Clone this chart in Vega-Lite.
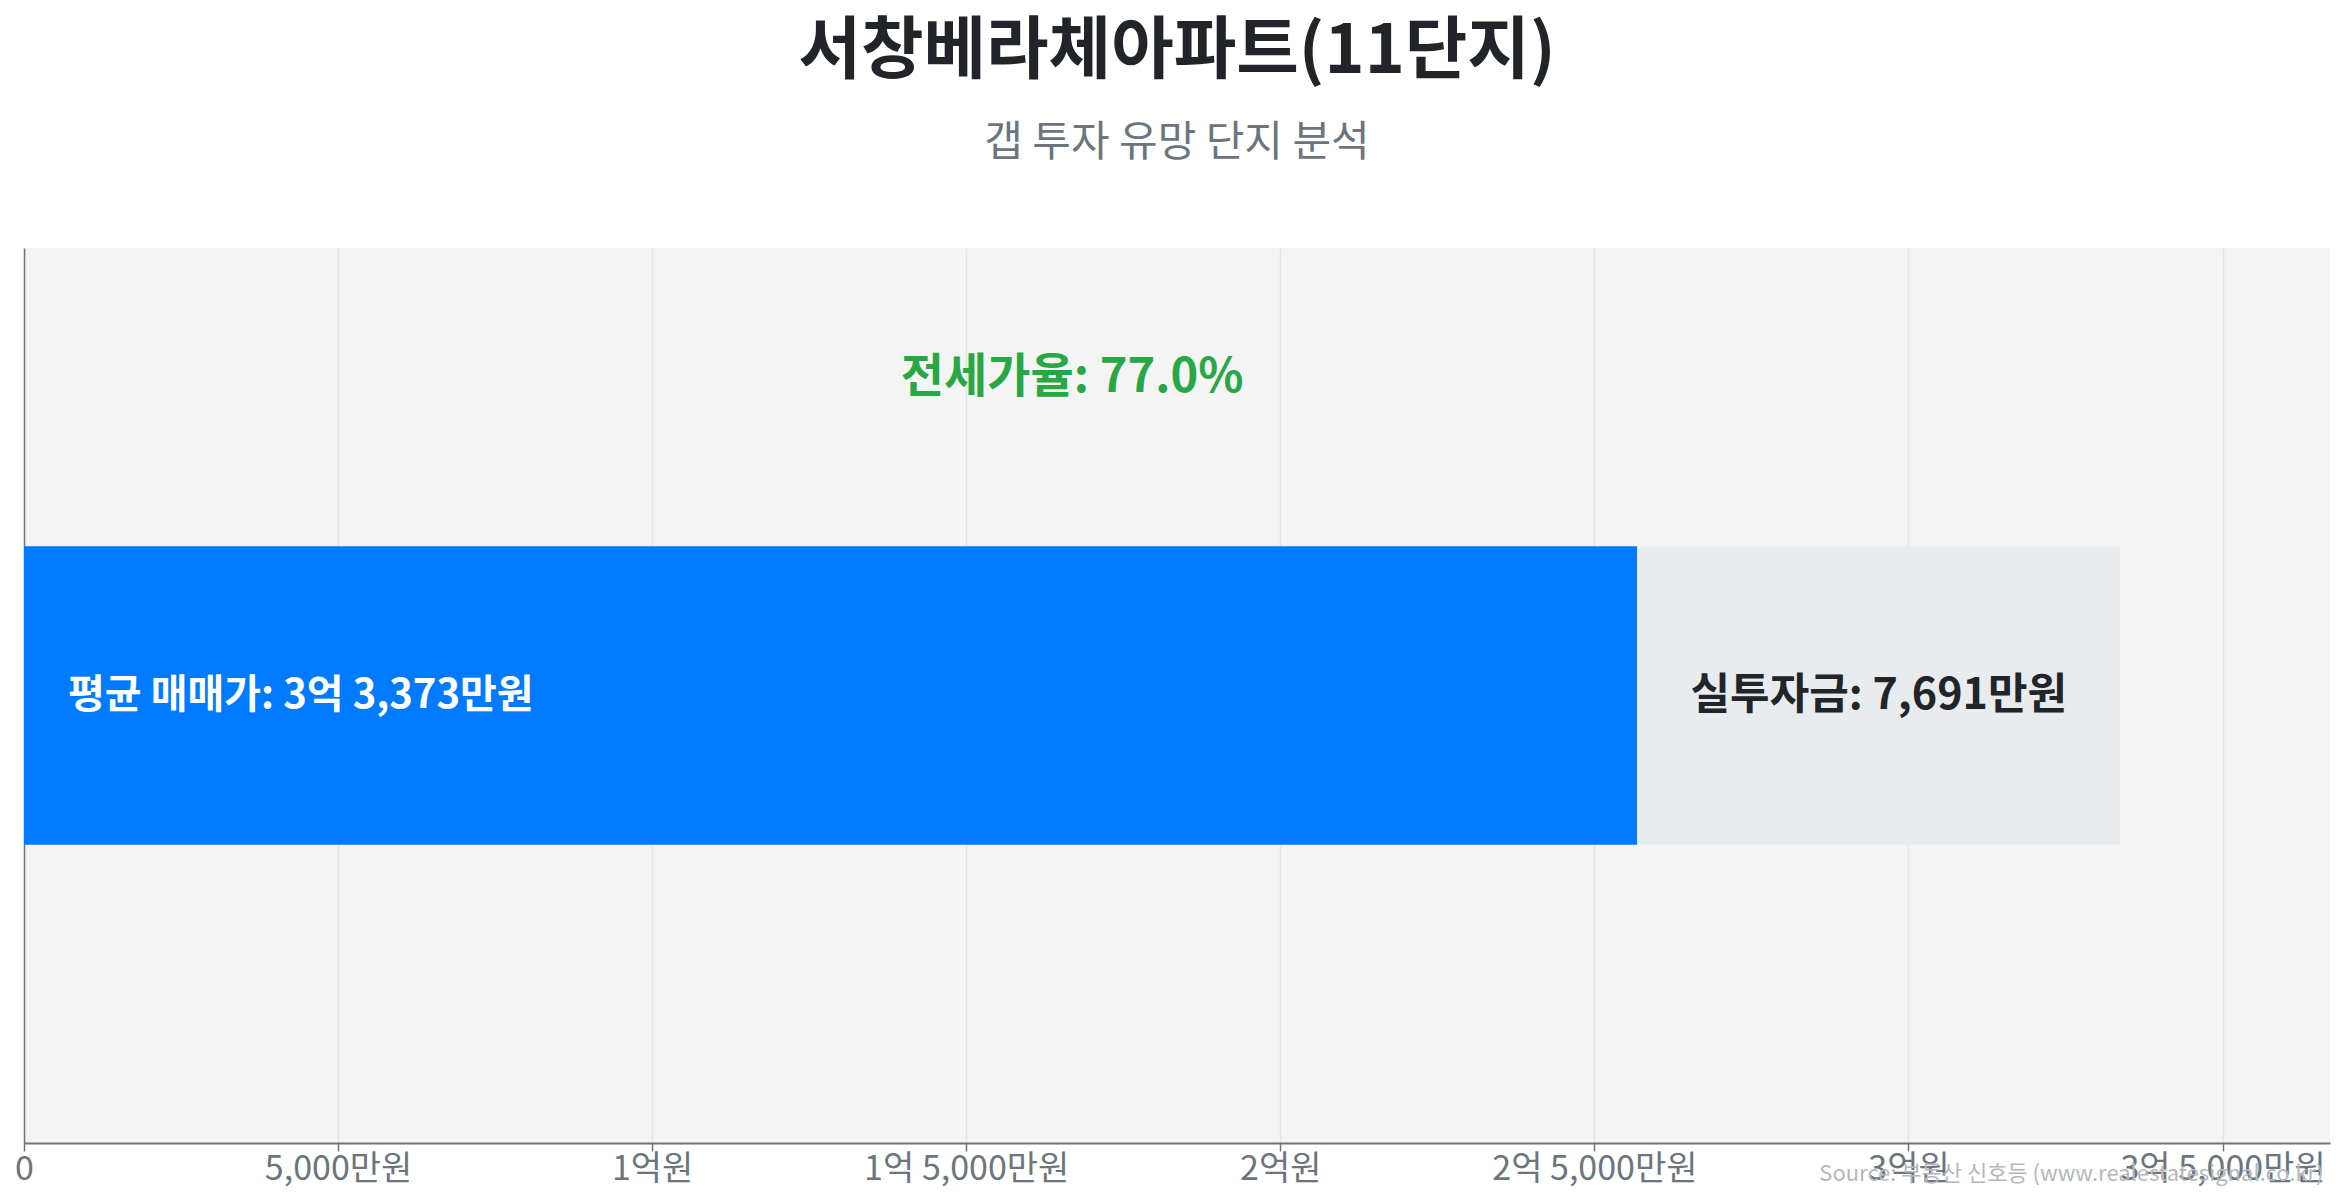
{
  "$schema": "https://vega.github.io/schema/vega-lite/v6.json",
  "width": 2306,
  "height": 895,
  "autosize": {"type": "none"},
  "padding": {"left": 24, "top": 248, "right": 15, "bottom": 59},
  "background": "white",
  "title": {
    "text": "서창베라체아파트(11단지)",
    "subtitle": "갭 투자 유망 단지 분석",
    "anchor": "middle",
    "frame": "group",
    "font": "Noto Sans CJK KR",
    "fontSize": 68,
    "fontWeight": "bold",
    "color": "#212529",
    "subtitleFont": "Noto Sans CJK KR",
    "subtitleFontSize": 42,
    "subtitleColor": "#6c757d",
    "subtitlePadding": 36,
    "offset": 84
  },
  "config": {
    "view": {"fill": "#f4f4f4", "stroke": null},
    "font": "Noto Sans CJK KR"
  },
  "datasets": {
    "bars": [
      {"항목": "전세가", "start": 0, "end": 25682, "label": "평균 매매가: 3억 3,373만원"},
      {"항목": "실투자금", "start": 25682, "end": 33373, "label": "실투자금: 7,691만원"}
    ],
    "ratio": [
      {"label": "전세가율: 77.0%", "total": 33373}
    ]
  },
  "encoding": {
    "y": {
      "datum": "서창베라체아파트(11단지)",
      "type": "nominal",
      "scale": {"paddingInner": 0, "paddingOuter": 1},
      "axis": {
        "title": null,
        "labels": false,
        "ticks": false,
        "grid": false,
        "domain": true,
        "domainColor": "#6c757d",
        "domainWidth": 1.5
      }
    }
  },
  "layer": [
    {
      "data": {"name": "bars"},
      "mark": {"type": "bar"},
      "encoding": {
        "x": {
          "field": "start",
          "type": "quantitative",
          "scale": {"domain": [0, 36710.3], "nice": false, "zero": true},
          "axis": {
            "values": [0, 5000, 10000, 15000, 20000, 25000, 30000, 35000],
            "labelExpr": "datum.value == 0 ? '0' : (floor(datum.value / 10000) > 0 ? floor(datum.value / 10000) + '억' + (datum.value % 10000 > 0 ? ' ' + format(datum.value % 10000, ',') + '만원' : '원') : format(datum.value, ',') + '만원')",
            "labelFontSize": 34,
            "labelColor": "#6c757d",
            "labelPadding": 1,
            "labelLimit": 0,
            "labelFlush": false,
            "labelOverlap": false,
            "labelBound": false,
            "tickColor": "#6c757d",
            "tickSize": 8,
            "tickWidth": 1.5,
            "grid": true,
            "gridColor": "#e4e4e4",
            "gridWidth": 1.5,
            "domainColor": "#6c757d",
            "domainWidth": 2,
            "title": "Source: 부동산 신호등 (www.realestatesignal.co.kr)",
            "titleAnchor": "end",
            "titleAlign": "right",
            "titleBaseline": "middle",
            "titleX": 2299,
            "titleY": 30,
            "titleFontSize": 22,
            "titleFontWeight": "normal",
            "titleColor": "#b4b8bc"
          }
        },
        "x2": {"field": "end"},
        "color": {
          "field": "항목",
          "type": "nominal",
          "scale": {"domain": ["전세가", "실투자금"], "range": ["#007bff", "#e9ecef"]},
          "legend": null
        }
      }
    },
    {
      "data": {"name": "bars"},
      "transform": [{"filter": "datum['항목'] == '전세가'"}],
      "mark": {"type": "text", "align": "left", "baseline": "middle", "dx": 44, "fontSize": 40, "fontWeight": "bold", "color": "white"},
      "encoding": {
        "x": {"field": "start", "type": "quantitative"},
        "text": {"field": "label"}
      }
    },
    {
      "data": {"name": "bars"},
      "transform": [
        {"filter": "datum['항목'] == '실투자금'"},
        {"calculate": "(datum.start + datum.end) / 2", "as": "mid"}
      ],
      "mark": {"type": "text", "align": "center", "baseline": "middle", "fontSize": 43, "fontWeight": "bold", "color": "#212529"},
      "encoding": {
        "x": {"field": "mid", "type": "quantitative"},
        "text": {"field": "label"}
      }
    },
    {
      "data": {"name": "ratio"},
      "transform": [{"calculate": "datum.total / 2", "as": "mid"}],
      "mark": {"type": "text", "align": "center", "baseline": "middle", "dy": -318, "fontSize": 47, "fontWeight": "bold", "color": "#28a745"},
      "encoding": {
        "x": {"field": "mid", "type": "quantitative"},
        "text": {"field": "label"}
      }
    }
  ]
}
